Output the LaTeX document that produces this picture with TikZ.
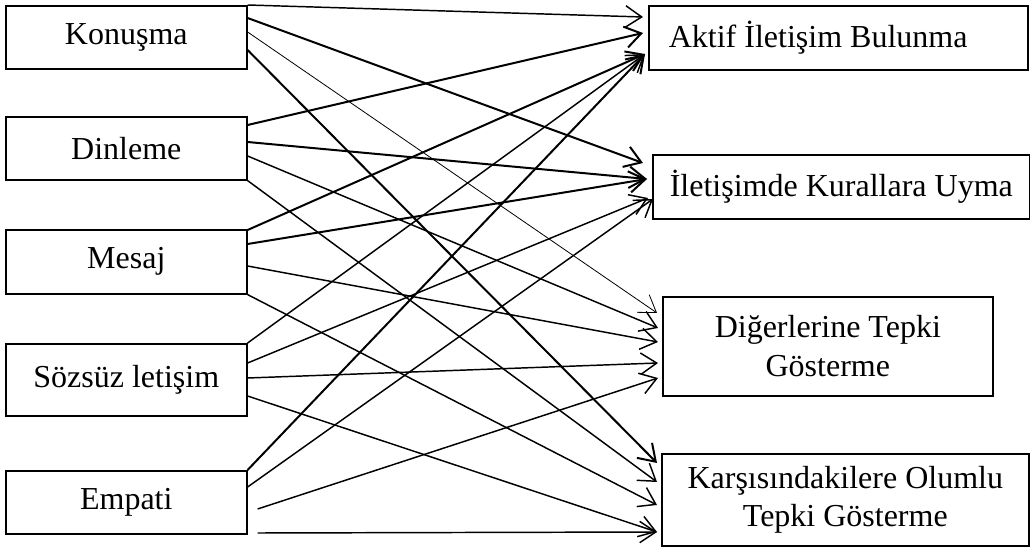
\documentclass[tikz,border=0pt]{standalone}
\usepackage{fontspec}
\setmainfont{Liberation Serif}
\usetikzlibrary{arrows.meta,calc}

\begin{document}
\begin{tikzpicture}[x=0.75pt,y=0.75pt,yscale=-1,xscale=1,
    box/.style={draw, line width=1.2pt, inner sep=4pt, align=center, font=\fontsize{24}{29}\selectfont},
    lnk/.style={line width=1.1pt, -{Straight Barb[length=12pt,width=16pt]}},
    thk/.style={lnk, line width=1.5pt},
    thn/.style={lnk, line width=0.6pt}]
\useasboundingbox (0,0) rectangle (1030,548);

% Text Node
\draw (5,5) node [box, anchor=north west, minimum width=180.75pt, minimum height=47.25pt] (kon) {Konuşma};
% Text Node
\draw (5,116) node [box, anchor=north west, minimum width=180.75pt, minimum height=47.25pt] (din) {Dinleme};
% Text Node
\draw (5,229) node [box, anchor=north west, minimum width=180.75pt, minimum height=48pt] (mes) {Mesaj};
% Text Node
\draw (5,343) node [box, anchor=north west, minimum width=180.75pt, minimum height=54pt] (soz) {Sözsüz letişim};
% Text Node
\draw (5,470) node [box, anchor=north west, minimum width=180.75pt, minimum height=47.25pt] (emp) {Empati};

% Text Node
\draw (648,5) node [box, anchor=north west, align=flush left, inner xsep=15pt, text width=254.25pt, minimum height=48pt] (akt) {Aktif İletişim Bulunma};
% Text Node
\draw (652,154) node [box, anchor=north west, minimum width=282.75pt, minimum height=48pt] (ile) {İletişimde Kurallara Uyma};
% Text Node
\draw (662,296) node [box, anchor=north west, minimum width=247.5pt, minimum height=74.25pt] (dig) {Diğerlerine Tepki\\Gösterme};
% Text Node
\draw (661,453) node [box, anchor=north west, minimum width=275.25pt, minimum height=69pt] (kar) {Karşısındakilere Olumlu\\Tepki Gösterme};

%Straight Lines from Konuşma
\draw [lnk] (kon.north east) -- ($(akt.north west)+(-5,12)$);
\draw [thk] ($(kon.north east)+(0,13)$) -- ($(ile.north west)+(-9,9)$);
\draw [thn] ($(kon.north east)+(0,27)$) -- ($(dig.north west)+(-5,17)$);
\draw [thk] ($(kon.north east)+(0,45)$) -- ($(kar.north west)+(-4,10)$);
%Straight Lines from Dinleme
\draw [thk] ($(din.north east)+(0,9)$) -- ($(akt.north west)+(-5,28)$);
\draw [thk] ($(din.north east)+(0,26)$) -- ($(ile.north west)+(-5,25)$);
\draw [lnk] ($(din.north east)+(0,40)$) -- ($(dig.north west)+(-4,32)$);
\draw [lnk] (din.south east) -- ($(kar.north west)+(-4,29)$);
%Straight Lines from Mesaj
\draw [thk] ($(mes.north east)+(0,1)$) -- ($(akt.north west)+(-3,49)$);
\draw [thk] ($(mes.north east)+(0,15)$) -- ($(ile.north west)+(-5,25)$);
\draw [lnk] ($(mes.north east)+(0,37)$) -- ($(dig.north west)+(-4,46)$);
\draw [lnk] (mes.south east) -- ($(kar.north west)+(-4,52)$);
%Straight Lines from Sözsüz letişim
\draw [lnk] (soz.north east) -- ($(akt.north west)+(-3,49)$);
\draw [lnk] ($(soz.north east)+(0,20)$) -- ($(ile.north west)+(-4,44)$);
\draw [lnk] ($(soz.north east)+(0,35)$) -- ($(dig.north west)+(-4,67)$);
\draw [lnk] ($(soz.north east)+(0,53)$) -- ($(kar.north west)+(-4,79)$);
%Straight Lines from Empati
\draw [thk] (emp.north east) -- ($(akt.north west)+(-3,49)$);
\draw [lnk] ($(emp.north east)+(0,17)$) -- ($(ile.north west)+(1,45)$);
\draw [lnk] ($(emp.north east)+(10,39)$) -- ($(dig.north west)+(-4,82)$);
\draw [lnk] ($(emp.north east)+(10,63)$) -- ($(kar.north west)+(-4,79)$);

\end{tikzpicture}
\end{document}
